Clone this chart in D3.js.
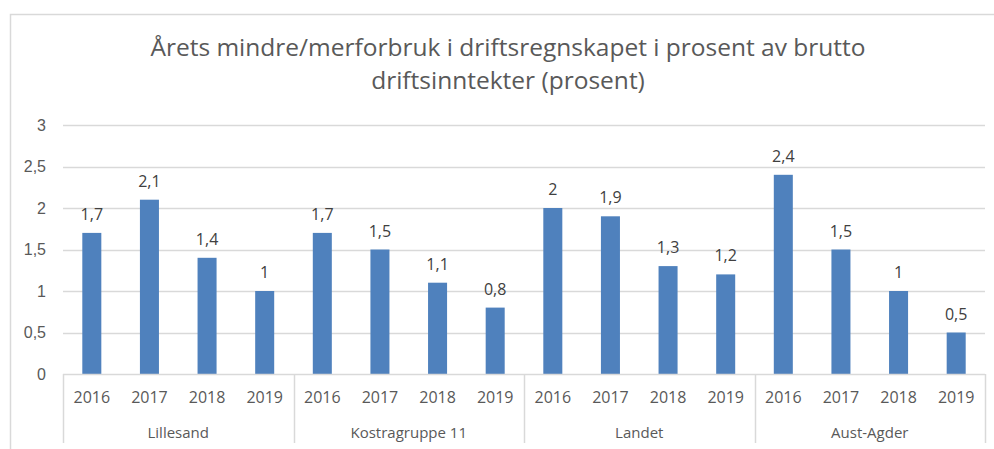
<!DOCTYPE html>
<html>
<head>
<meta charset="utf-8">
<script src="https://cdn.jsdelivr.net/npm/d3@7"></script>
<style>
  body { margin: 0; background: #fff; }
  svg { display: block; font-family: 'Open Sans', sans-serif; }
</style>
</head>
<body>
<div id="chart"></div>
<script>
const groups = ['Lillesand', 'Kostragruppe 11', 'Landet', 'Aust-Agder'];
const years = ['2016', '2017', '2018', '2019'];
const lillesand = [1.7, 2.1, 1.4, 1];
const kostragruppe = [1.7, 1.5, 1.1, 0.8];
const landet = [2, 1.9, 1.3, 1.2];
const austAgder = [2.4, 1.5, 1, 0.5];
const yTicks = [0, 0.5, 1, 1.5, 2, 2.5, 3];
const titleLines = ['Årets mindre/merforbruk i driftsregnskapet i prosent av brutto', 'driftsinntekter (prosent)'];

const seriesByGroup = [lillesand, kostragruppe, landet, austAgder];
const rows = [];
groups.forEach((g, gi) => {
  years.forEach((y, yi) => {
    rows.push({ key: g + '|' + y, group: g, year: y, value: seriesByGroup[gi][yi] });
  });
});

const width = 994;
const height = 449;
const margin = { top: 125, right: 9, bottom: 75, left: 63 };
const textColor = '#595959';
const gridColor = '#d9d9d9';
const fmt = v => String(v).replace('.', ',');

const svg = d3.select('#chart').append('svg')
  .attr('width', width)
  .attr('height', height);

// outer chart border
svg.append('rect')
  .attr('x', 10.5)
  .attr('y', 14.5)
  .attr('width', 1000)
  .attr('height', 500)
  .attr('fill', '#fff')
  .attr('stroke', gridColor)
  .attr('stroke-width', 1.5);

const title = svg.append('text')
  .attr('text-anchor', 'middle')
  .attr('fill', textColor)
  .style('font-size', '24.5px');
title.selectAll('tspan')
  .data(titleLines)
  .enter()
  .append('tspan')
  .attr('x', 508)
  .attr('y', (d, i) => 56 + i * 33)
  .text(d => d);

const x = d3.scaleBand()
  .domain(rows.map(d => d.key))
  .range([margin.left, width - margin.right])
  .paddingInner(0.67)
  .paddingOuter(0.335);

const y = d3.scaleLinear()
  .domain([0, 3])
  .range([height - margin.bottom, margin.top]);

// gridlines
svg.append('g')
  .selectAll('line')
  .data(yTicks.filter(t => t > 0))
  .enter()
  .append('line')
  .attr('x1', margin.left)
  .attr('x2', width - margin.right)
  .attr('y1', d => Math.round(y(d)) + 0.5)
  .attr('y2', d => Math.round(y(d)) + 0.5)
  .attr('stroke', gridColor)
  .attr('stroke-width', 1.5);

const yAxis = d3.axisLeft(y)
  .tickValues(yTicks)
  .tickSize(0)
  .tickPadding(0)
  .tickFormat(fmt);

svg.append('g')
  .attr('transform', 'translate(46, 0)')
  .call(yAxis)
  .call(g => g.select('.domain').remove())
  .call(g => g.selectAll('text')
    .attr('fill', textColor)
    .style('font-size', '16px'));

// bars
svg.append('g')
  .selectAll('rect')
  .data(rows)
  .enter()
  .append('rect')
  .attr('x', d => x(d.key))
  .attr('y', d => y(d.value))
  .attr('width', x.bandwidth())
  .attr('height', d => y(0) - y(d.value))
  .attr('fill', '#4f81bd');

// value labels
svg.append('g')
  .selectAll('text')
  .data(rows)
  .enter()
  .append('text')
  .attr('x', d => x(d.key) + x.bandwidth() / 2)
  .attr('y', d => y(d.value) - 13)
  .attr('text-anchor', 'middle')
  .attr('fill', '#404040')
  .style('font-size', '16px')
  .text(d => fmt(d.value));

// category axis
const x0 = y(0);
const step = x.step();
svg.append('line')
  .attr('x1', margin.left)
  .attr('x2', width - margin.right)
  .attr('y1', Math.round(x0) + 0.5)
  .attr('y2', Math.round(x0) + 0.5)
  .attr('stroke', gridColor)
  .attr('stroke-width', 1.5);

svg.append('g')
  .selectAll('text')
  .data(rows)
  .enter()
  .append('text')
  .attr('x', d => x(d.key) + x.bandwidth() / 2)
  .attr('y', x0 + 29)
  .attr('text-anchor', 'middle')
  .attr('fill', textColor)
  .style('font-size', '16px')
  .text(d => d.year);

const groupEdges = d3.range(groups.length + 1).map(i => margin.left + i * years.length * step);

svg.append('g')
  .selectAll('line')
  .data(groupEdges)
  .enter()
  .append('line')
  .attr('x1', d => Math.round(d) + 0.5)
  .attr('x2', d => Math.round(d) + 0.5)
  .attr('y1', x0)
  .attr('y2', height - 6)
  .attr('stroke', gridColor)
  .attr('stroke-width', 1.5);

svg.append('g')
  .selectAll('text')
  .data(groups)
  .enter()
  .append('text')
  .attr('x', (d, i) => (groupEdges[i] + groupEdges[i + 1]) / 2)
  .attr('y', x0 + 64)
  .attr('text-anchor', 'middle')
  .attr('fill', textColor)
  .style('font-size', '15px')
  .text(d => d);
</script>
</body>
</html>
